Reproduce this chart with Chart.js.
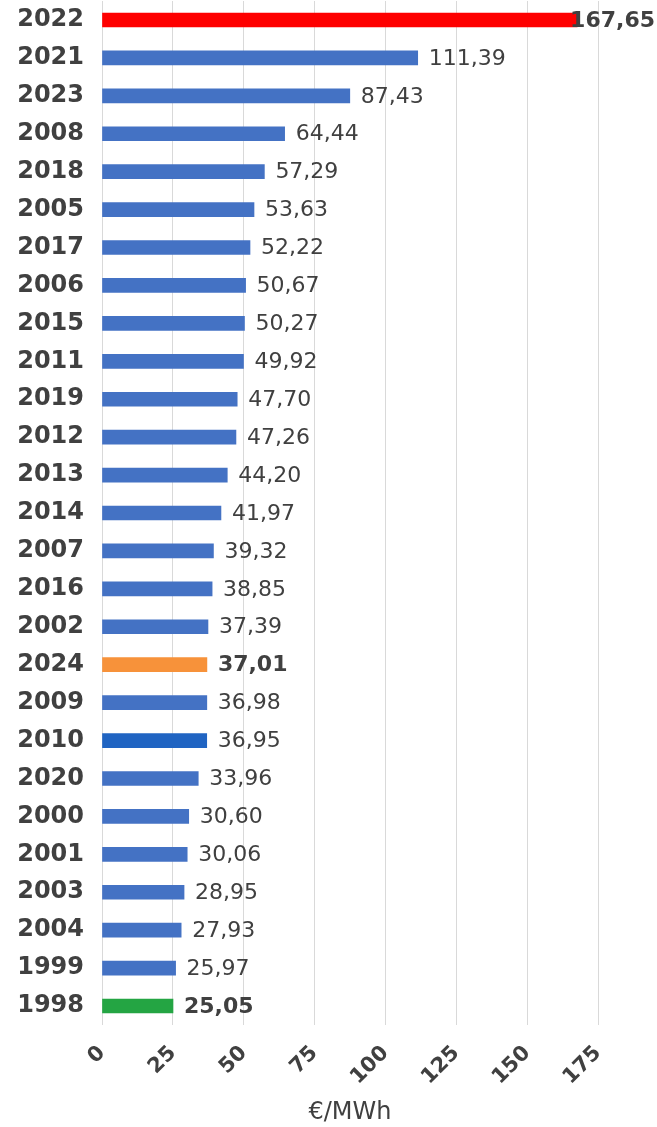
<!DOCTYPE html>
<html>
<head>
<meta charset="utf-8">
<script src="https://cdn.jsdelivr.net/npm/chart.js@4"></script>
<style>
  html, body { margin: 0; padding: 0; background: #ffffff; }
  #chart { display: block; }
</style>
</head>
<body>
<canvas id="chart" width="657" height="1127"></canvas>
<script>
// datos del gráfico
const years = ['2022', '2021', '2023', '2008', '2018', '2005', '2017', '2006', '2015', '2011', '2019', '2012', '2013', '2014',
    '2007', '2016', '2002', '2024', '2009', '2010', '2020', '2000', '2001', '2003', '2004', '1999', '1998'];
const prices = [167.65, 111.39, 87.43, 64.44, 57.29, 53.63, 52.22, 50.67, 50.27, 49.92, 47.70, 47.26, 44.20, 41.97,
    39.32, 38.85, 37.39, 37.01, 36.98, 36.95, 33.96, 30.60, 30.06, 28.95, 27.93, 25.97, 25.05];
const xTicks = [0, 25, 50, 75, 100, 125, 150, 175];
const highlightYears = ['2022', '2024', '1998'];

// colores por año
function barColor(year) {
    if (year === '2022') return '#fe0000';
    if (year === '2024') return '#f7923a';
    if (year === '1998') return '#24a543';
    if (year === '2010') return '#2064c2';
    return '#4472c4';
}

function fmt(v) {
    return v.toFixed(2).replace('.', ',');
}

// etiquetas de valor al final de cada barra
const valueLabels = {
    id: 'valueLabels',
    afterDatasetsDraw(chart) {
        const ctx = chart.ctx;
        const meta = chart.getDatasetMeta(0);
        ctx.save();
        ctx.textBaseline = 'middle';
        ctx.fillStyle = '#404040';
        meta.data.forEach((bar, i) => {
            const bold = highlightYears.includes(years[i]);
            ctx.font = (bold ? 'bold ' : '') + '22px "DejaVu Sans"';
            const text = fmt(prices[i]);
            const w = ctx.measureText(text).width;
            let x = bar.x + 11;
            if (x + w > chart.width - 2) x = chart.width - w - 2;
            ctx.fillText(text, x, bar.y + 1);
        });
        ctx.restore();
    }
};

const ctx = document.getElementById('chart').getContext('2d');

new Chart(ctx, {
    type: 'bar',
    data: {
        labels: years,
        datasets: [{
            data: prices,
            backgroundColor: years.map(barColor),
            barThickness: 14,
            borderWidth: 0
        }]
    },
    options: {
        indexAxis: 'y',
        responsive: false,
        animation: false,
        layout: {
            padding: { top: 1, right: 59, left: 0, bottom: 0 }
        },
        plugins: {
            legend: { display: false },
            tooltip: { enabled: false }
        },
        scales: {
            x: {
                min: 0,
                max: 175,
                afterBuildTicks(scale) {
                    scale.ticks = xTicks.map(v => ({ value: v }));
                },
                afterFit(scale) {
                    scale.height = 102;
                    scale.paddingLeft = 0;
                    scale.paddingRight = 0;
                },
                grid: {
                    color: '#d9d9d9',
                    drawTicks: false
                },
                border: { display: false },
                ticks: {
                    minRotation: 45,
                    maxRotation: 45,
                    padding: 16,
                    color: '#404040',
                    font: { family: 'DejaVu Sans', size: 21, weight: 'bold' }
                },
                title: {
                    display: true,
                    text: '€/MWh',
                    color: '#404040',
                    padding: { top: 0, bottom: 0 },
                    font: { family: 'DejaVu Sans', size: 24 }
                }
            },
            y: {
                afterFit(scale) {
                    scale.width = 102;
                    scale.paddingTop = 0;
                    scale.paddingBottom = 0;
                },
                grid: { display: false },
                border: { display: false },
                ticks: {
                    padding: 10,
                    color: '#404040',
                    font: { family: 'DejaVu Sans', size: 24, weight: 'bold' }
                }
            }
        }
    },
    plugins: [valueLabels]
});
</script>
</body>
</html>
